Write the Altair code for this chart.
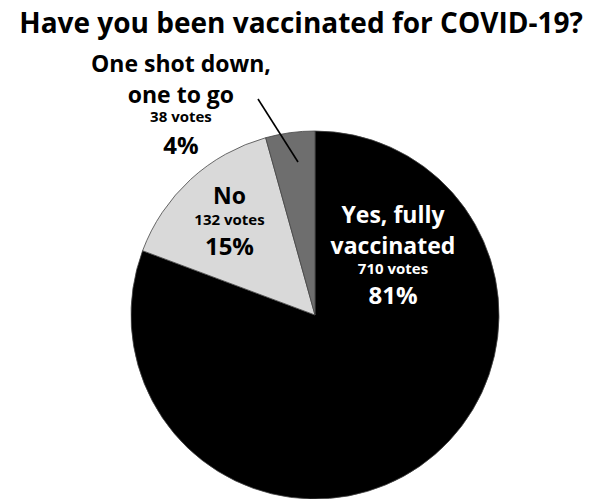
import altair as alt
import pandas as pd

# ---- data ----
categories = ["Yes, fully vaccinated", "No", "One shot down, one to go"]
votes = [710, 132, 38]
pct_labels = ["81%", "15%", "4%"]
name_line1 = ["Yes, fully", "No", "One shot down,"]
name_line2 = ["vaccinated", "", "one to go"]
slice_colors = ["#000000", "#d9d9d9", "#6e6e6e"]
text_colors = ["#ffffff", "#000000", "#000000"]
title_text = "Have you been vaccinated for COVID-19?"

df = pd.DataFrame({
    "category": categories,
    "votes": votes,
    "rank": list(range(len(categories))),
    "name1": name_line1,
    "name2": name_line2,
    "votes_label": [f"{v} votes" for v in votes],
    "pct": pct_labels,
})

FONT = "Open Sans"

base = (
    alt.Chart(df)
    .transform_stack(stack="votes", groupby=[], as_=["v0", "v1"],
                     sort=[alt.SortField("rank", order="ascending")])
    .transform_calculate(mid="(datum.v0 + datum.v1) / 2")
)

theta_scale = alt.Scale(domain=[0, sum(votes)])

arcs = base.mark_arc(radius=184, stroke="#444444", strokeWidth=0.8).encode(
    theta=alt.Theta("v0:Q", scale=theta_scale),
    theta2="v1:Q",
    color=alt.Color("category:N", scale=alt.Scale(domain=categories, range=slice_colors), legend=None),
)

label_style = {
    "Yes, fully vaccinated": dict(radius=0, dx=78, dys=[-92, -61, -41, -11]),
    "No": dict(radius=128, dx=1, dys=[-17, None, 4, 34]),
    "One shot down, one to go": dict(radius=215, dx=-105, dys=[-30, 1, 20, 52]),
}
line_fields = ["name1", "name2", "votes_label", "pct"]
line_sizes = [23, 23, 15, 24]

layers = [arcs]
for cat, tcol in zip(categories, text_colors):
    st = label_style[cat]
    for field, size, dy in zip(line_fields, line_sizes, st["dys"]):
        if dy is None:
            continue
        layers.append(
            base.transform_filter(alt.datum.category == cat)
            .mark_text(radius=st["radius"], dx=st["dx"], dy=dy, font=FONT,
                       fontWeight="bold", fontSize=size, align="center",
                       baseline="alphabetic", color=tcol)
            .encode(theta=alt.Theta("mid:Q", scale=theta_scale),
                    text=alt.Text(f"{field}:N"))
        )

leader = alt.Chart(df).transform_filter(alt.datum.rank == 2).mark_rule(
    color="#000000", strokeWidth=1.6
).encode(x=alt.value(127), y=alt.value(-32), x2=alt.value(167), y2=alt.value(31))
layers.append(leader)

chart = alt.layer(*layers).properties(
    width=368,
    height=368,
    padding={"left": 123, "top": 123, "right": 95, "bottom": 0},
    autosize=alt.AutoSizeParams(type="none"),
    title=alt.TitleParams(title_text, font=FONT, fontSize=28, fontWeight="bold",
                          color="#000000", anchor="middle", frame="group",
                          baseline="alphabetic", offset=0, dx=-14, dy=7),
).configure_view(stroke=None)

chart.save("out.html", embed_options={"renderer": "svg", "actions": False})
